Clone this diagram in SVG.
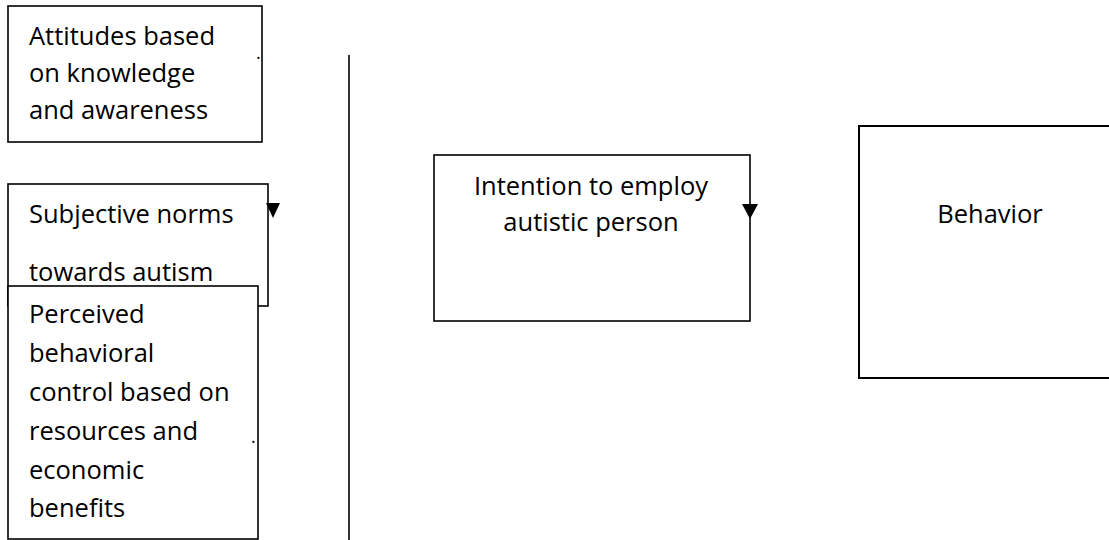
<svg xmlns="http://www.w3.org/2000/svg" width="1109" height="540" viewBox="0 0 1109 540">
<style>
.box{fill:#fff;stroke:#000;stroke-width:1.6}
.t{font-family:"Open Sans","Noto Sans",sans-serif;font-size:25.5px;fill:#000}
.c{text-anchor:middle}
.d{font-size:18px}
.conn{stroke:#000;stroke-width:1.6;fill:none}
</style>
<rect width="1109" height="540" fill="#fff"/>
<g id="attitudes">
<rect class="box" x="8" y="6" width="254" height="136"/>
<text class="t" x="29" y="45">Attitudes based</text>
<text class="t" x="29" y="82">on knowledge</text>
<text class="t" x="29" y="119">and awareness</text>
<text class="t d" x="256" y="59">.</text>
</g>
<g id="subjective">
<rect class="box" x="8" y="184" width="260" height="122"/>
<text class="t" x="29" y="223">Subjective norms</text>
<text class="t" x="29" y="281">towards autism</text>
</g>
<g id="perceived">
<rect class="box" x="8" y="286" width="250" height="253"/>
<text class="t" x="29" y="323">Perceived</text>
<text class="t" x="29" y="362">behavioral</text>
<text class="t" x="29" y="401">control based on</text>
<text class="t" x="29" y="440">resources and</text>
<text class="t" x="29" y="479">economic</text>
<text class="t" x="29" y="517">benefits</text>
<text class="t d" x="251" y="443">.</text>
</g>
<g id="intention">
<rect class="box" x="434" y="155" width="316" height="166"/>
<text class="t c" x="591" y="195">Intention to employ</text>
<text class="t c" x="591" y="231">autistic person</text>
</g>
<g id="behavior">
<rect class="box" x="859" y="126" width="260" height="252" style="stroke-width:2"/>
<text class="t c" x="990" y="223">Behavior</text>
</g>
<g id="connectors">
<line class="conn" x1="349" y1="55" x2="349" y2="540"/>
<path d="M266,203 L280,203 L273,218 Z" fill="#000"/>
<path d="M742,204 L758,204 L750,219 Z" fill="#000"/>
</g>
</svg>
